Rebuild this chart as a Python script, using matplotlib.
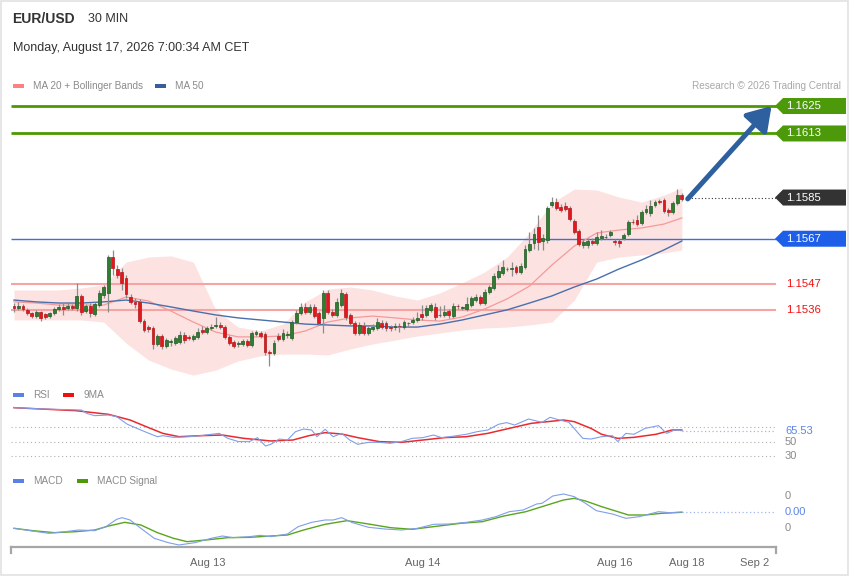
import numpy as np
import matplotlib
matplotlib.use("Agg")
import matplotlib.pyplot as plt
from matplotlib.path import Path
from matplotlib.patches import Rectangle

plt.rcParams["font.family"] = ["Liberation Sans", "DejaVu Sans"]

W, H = 850, 576

# ── 30 min candles ────────────────────────────────────────────────────────────
opens = [
    1.15376, 1.15367, 1.15376, 1.15359, 1.15345, 1.15332, 1.15350, 1.15341, 1.15332, 1.15345,
    1.15363, 1.15372, 1.15367, 1.15376, 1.15367, 1.15420, 1.15354, 1.15376, 1.15341, 1.15380,
    1.15424, 1.15433, 1.15590, 1.15538, 1.15525, 1.15498, 1.15415, 1.15394, 1.15394, 1.15310,
    1.15284, 1.15280, 1.15210, 1.15245, 1.15201, 1.15219, 1.15214, 1.15219, 1.15249, 1.15241,
    1.15232, 1.15241, 1.15271, 1.15262, 1.15280, 1.15289, 1.15293, 1.15284, 1.15241, 1.15219,
    1.15210, 1.15210, 1.15223, 1.15206, 1.15254, 1.15258, 1.15254, 1.15175, 1.15171, 1.15245,
    1.15232, 1.15249, 1.15236, 1.15306, 1.15345, 1.15372, 1.15350, 1.15372, 1.15345, 1.15324,
    1.15433, 1.15350, 1.15337, 1.15380, 1.15428, 1.15337, 1.15302, 1.15258, 1.15289, 1.15258,
    1.15275, 1.15280, 1.15302, 1.15302, 1.15284, 1.15284, 1.15289, 1.15284, 1.15302, 1.15306,
    1.15315, 1.15341, 1.15337, 1.15359, 1.15372, 1.15337, 1.15337, 1.15354, 1.15332, 1.15376,
    1.15367, 1.15363, 1.15380, 1.15402, 1.15415, 1.15389, 1.15437, 1.15455, 1.15503, 1.15520,
    1.15538, 1.15538, 1.15546, 1.15525, 1.15546, 1.15621, 1.15651, 1.15721, 1.15660, 1.15664,
    1.15817, 1.15830, 1.15809, 1.15813, 1.15804, 1.15747, 1.15704, 1.15643, 1.15643, 1.15660,
    1.15651, 1.15673, 1.15678, 1.15686, 1.15660, 1.15660, 1.15673, 1.15691, 1.15743, 1.15752,
    1.15737, 1.15787, 1.15782, 1.15817, 1.15835, 1.15839, 1.15795, 1.15787, 1.15826, 1.15861,
]
closes = [
    1.15367, 1.15376, 1.15363, 1.15345, 1.15332, 1.15350, 1.15324, 1.15328, 1.15345, 1.15363,
    1.15372, 1.15363, 1.15376, 1.15367, 1.15420, 1.15350, 1.15376, 1.15345, 1.15385, 1.15433,
    1.15459, 1.15590, 1.15542, 1.15511, 1.15477, 1.15428, 1.15394, 1.15385, 1.15310, 1.15271,
    1.15275, 1.15210, 1.15245, 1.15201, 1.15227, 1.15223, 1.15236, 1.15249, 1.15227, 1.15236,
    1.15245, 1.15262, 1.15262, 1.15280, 1.15284, 1.15293, 1.15284, 1.15241, 1.15214, 1.15201,
    1.15214, 1.15223, 1.15206, 1.15258, 1.15262, 1.15245, 1.15175, 1.15171, 1.15214, 1.15232,
    1.15258, 1.15254, 1.15306, 1.15345, 1.15372, 1.15350, 1.15372, 1.15332, 1.15302, 1.15433,
    1.15350, 1.15337, 1.15394, 1.15433, 1.15328, 1.15302, 1.15258, 1.15293, 1.15258, 1.15280,
    1.15284, 1.15306, 1.15284, 1.15280, 1.15282, 1.15289, 1.15287, 1.15306, 1.15300, 1.15315,
    1.15324, 1.15328, 1.15367, 1.15380, 1.15328, 1.15335, 1.15350, 1.15337, 1.15376, 1.15374,
    1.15369, 1.15385, 1.15411, 1.15415, 1.15389, 1.15437, 1.15459, 1.15507, 1.15529, 1.15546,
    1.15536, 1.15540, 1.15525, 1.15551, 1.15625, 1.15647, 1.15691, 1.15657, 1.15673, 1.15804,
    1.15830, 1.15804, 1.15795, 1.15800, 1.15756, 1.15699, 1.15647, 1.15657, 1.15660, 1.15651,
    1.15678, 1.15682, 1.15676, 1.15699, 1.15657, 1.15651, 1.15686, 1.15743, 1.15741, 1.15734,
    1.15787, 1.15800, 1.15813, 1.15830, 1.15830, 1.15791, 1.15787, 1.15826, 1.15861, 1.15844,
]
highs = [
    1.15390, 1.15395, 1.15385, 1.15367, 1.15350, 1.15359, 1.15354, 1.15345, 1.15350, 1.15372,
    1.15385, 1.15389, 1.15394, 1.15385, 1.15477, 1.15428, 1.15385, 1.15389, 1.15394, 1.15446,
    1.15468, 1.15599, 1.15621, 1.15555, 1.15542, 1.15511, 1.15428, 1.15411, 1.15407, 1.15319,
    1.15293, 1.15289, 1.15254, 1.15254, 1.15236, 1.15232, 1.15245, 1.15267, 1.15262, 1.15249,
    1.15254, 1.15280, 1.15289, 1.15289, 1.15297, 1.15328, 1.15306, 1.15293, 1.15249, 1.15227,
    1.15223, 1.15232, 1.15232, 1.15267, 1.15271, 1.15267, 1.15262, 1.15184, 1.15227, 1.15258,
    1.15275, 1.15267, 1.15315, 1.15359, 1.15389, 1.15389, 1.15385, 1.15385, 1.15354, 1.15446,
    1.15446, 1.15363, 1.15411, 1.15450, 1.15437, 1.15345, 1.15310, 1.15306, 1.15306, 1.15289,
    1.15297, 1.15324, 1.15315, 1.15310, 1.15293, 1.15302, 1.15302, 1.15315, 1.15306, 1.15328,
    1.15350, 1.15380, 1.15380, 1.15389, 1.15389, 1.15376, 1.15380, 1.15363, 1.15389, 1.15385,
    1.15376, 1.15415, 1.15420, 1.15428, 1.15424, 1.15450, 1.15468, 1.15520, 1.15555, 1.15577,
    1.15546, 1.15568, 1.15555, 1.15564, 1.15643, 1.15699, 1.15717, 1.15774, 1.15691, 1.15813,
    1.15852, 1.15848, 1.15822, 1.15830, 1.15813, 1.15756, 1.15713, 1.15669, 1.15673, 1.15673,
    1.15699, 1.15708, 1.15691, 1.15708, 1.15669, 1.15669, 1.15695, 1.15752, 1.15756, 1.15774,
    1.15795, 1.15817, 1.15839, 1.15839, 1.15843, 1.15848, 1.15804, 1.15835, 1.15887, 1.15870,
]
lows = [
    1.15350, 1.15359, 1.15354, 1.15337, 1.15324, 1.15324, 1.15310, 1.15319, 1.15324, 1.15337,
    1.15354, 1.15337, 1.15359, 1.15359, 1.15354, 1.15337, 1.15345, 1.15328, 1.15332, 1.15372,
    1.15411, 1.15350, 1.15511, 1.15498, 1.15446, 1.15411, 1.15385, 1.15367, 1.15302, 1.15262,
    1.15262, 1.15188, 1.15201, 1.15188, 1.15192, 1.15201, 1.15206, 1.15210, 1.15214, 1.15227,
    1.15223, 1.15232, 1.15254, 1.15254, 1.15271, 1.15280, 1.15275, 1.15232, 1.15206, 1.15192,
    1.15197, 1.15201, 1.15197, 1.15197, 1.15245, 1.15236, 1.15162, 1.15114, 1.15162, 1.15223,
    1.15223, 1.15236, 1.15227, 1.15297, 1.15337, 1.15341, 1.15341, 1.15324, 1.15293, 1.15258,
    1.15341, 1.15328, 1.15328, 1.15372, 1.15315, 1.15293, 1.15249, 1.15249, 1.15249, 1.15249,
    1.15267, 1.15271, 1.15275, 1.15267, 1.15267, 1.15271, 1.15262, 1.15275, 1.15289, 1.15297,
    1.15306, 1.15315, 1.15328, 1.15350, 1.15315, 1.15328, 1.15328, 1.15324, 1.15324, 1.15363,
    1.15359, 1.15354, 1.15372, 1.15394, 1.15380, 1.15380, 1.15428, 1.15446, 1.15494, 1.15511,
    1.15529, 1.15507, 1.15516, 1.15516, 1.15538, 1.15612, 1.15625, 1.15621, 1.15621, 1.15651,
    1.15809, 1.15795, 1.15787, 1.15791, 1.15747, 1.15691, 1.15638, 1.15629, 1.15629, 1.15643,
    1.15643, 1.15664, 1.15669, 1.15678, 1.15643, 1.15634, 1.15664, 1.15682, 1.15734, 1.15725,
    1.15730, 1.15778, 1.15769, 1.15809, 1.15822, 1.15782, 1.15769, 1.15778, 1.15817, 1.15835,
]

# ── MA 20 + Bollinger, MA 50 (read every 5 candles) ───────────────────────────
band_idx = [0, 5, 10, 15, 20, 25, 30, 35, 40, 45, 50, 55, 60, 65, 70, 75,
            80, 85, 90, 95, 100, 105, 110, 115, 120, 125, 130, 135, 140, 145, 149]
bb_upper = [1.15446, 1.15446, 1.15446, 1.15455, 1.15468, 1.15568, 1.15590, 1.15595,
            1.15568, 1.15359, 1.15284, 1.15267, 1.15297, 1.15394, 1.15450, 1.15459,
            1.15446, 1.15420, 1.15402, 1.15433, 1.15477, 1.15525, 1.15590, 1.15695,
            1.15826, 1.15887, 1.15883, 1.15852, 1.15830, 1.15861, 1.15892]
bb_lower = [1.15315, 1.15315, 1.15315, 1.15315, 1.15306, 1.15214, 1.15140, 1.15101,
            1.15074, 1.15096, 1.15136, 1.15158, 1.15166, 1.15166, 1.15162, 1.15188,
            1.15210, 1.15227, 1.15245, 1.15258, 1.15271, 1.15280, 1.15284, 1.15293,
            1.15306, 1.15402, 1.15568, 1.15590, 1.15599, 1.15608, 1.15621]
ma20 = [1.15394, 1.15389, 1.15380, 1.15380, 1.15380, 1.15415, 1.15398, 1.15354,
        1.15306, 1.15262, 1.15241, 1.15241, 1.15245, 1.15267, 1.15306, 1.15324,
        1.15332, 1.15324, 1.15315, 1.15310, 1.15328, 1.15363, 1.15407, 1.15463,
        1.15555, 1.15638, 1.15695, 1.15708, 1.15717, 1.15734, 1.15761]
ma50 = [1.15402, 1.15394, 1.15389, 1.15389, 1.15394, 1.15402, 1.15389, 1.15372,
        1.15354, 1.15337, 1.15324, 1.15315, 1.15306, 1.15297, 1.15293, 1.15289,
        1.15289, 1.15284, 1.15284, 1.15297, 1.15315, 1.15337, 1.15359, 1.15389,
        1.15420, 1.15459, 1.15494, 1.15538, 1.15577, 1.15621, 1.15660]

# ── key levels ────────────────────────────────────────────────────────────────
level_prices = [1.1625, 1.1613, 1.1585, 1.1567, 1.1547, 1.1536]
level_kinds = ["target", "target", "last", "pivot", "support", "support"]

# ── RSI / 9MA ─────────────────────────────────────────────────────────────────
rsi_idx = [0, 6.6, 15.0, 16.2, 18.0, 21.1, 22.9, 25.3, 28.3, 30.1, 32.0, 33.2, 35.6,
           39.2, 41.6, 44.0, 45.8, 47.7, 50.1, 52.5, 54.3, 56.1, 57.3, 59.2, 61.0,
           62.8, 64.6, 66.4, 67.6, 69.4, 71.2, 73.1, 74.9, 76.7, 79.1, 81.5, 83.9,
           86.4, 88.8, 91.2, 93.6, 95.4, 97.2, 100.9, 103.3, 105.7, 108.1, 109.9,
           111.7, 114.8, 116.6, 117.8, 119.6, 121.4, 123.8, 125.6, 126.9, 128.7,
           131.1, 133.5, 134.7, 136.5, 138.3, 140.8, 143.8, 145.6, 147.4, 149]
rsi_val = [97.3, 95.5, 94.1, 89.5, 86.3, 87.2, 84.9, 74.4, 66.5, 61.9, 57.3, 58.7, 56.4,
           57.3, 58.7, 60.6, 61.9, 55.0, 50.5, 50.5, 56.0, 44.5, 46.8, 54.1, 52.7,
           64.2, 67.9, 66.5, 57.3, 67.5, 57.3, 61.9, 52.7, 46.8, 49.5, 49.5, 48.2,
           50.5, 55.0, 56.0, 59.6, 56.0, 57.3, 60.6, 64.2, 66.5, 74.4, 76.7,
           73.4, 81.7, 78.9, 77.1, 84.0, 80.8, 77.1, 64.2, 55.0, 54.1,
           57.3, 58.7, 50.5, 61.9, 60.6, 68.8, 72.5, 61.9, 66.5, 65.53]
rsi_ma_idx = [0, 13.8, 21.1, 25.9, 29.5, 33.2, 36.8, 41.6, 46.5, 51.3, 57.3, 62.2,
              65.8, 69.4, 73.1, 76.7, 81.5, 86.4, 91.2, 96.0, 100.9, 105.7, 110.5,
              115.4, 122.6, 125.0, 128.7, 131.1, 134.7, 138.3, 143.2, 146.8, 149]
rsi_ma_val = [97.3, 93.2, 88.1, 80.3, 71.1, 61.9, 57.3, 58.7, 59.6, 55.0, 51.4, 52.7,
              58.7, 62.9, 61.0, 56.0, 50.5, 49.5, 52.7, 56.0, 57.3, 61.9, 68.8,
              75.7, 80.3, 78.0, 68.8, 60.6, 55.0, 56.4, 60.6, 66.5, 66.5]
rsi_levels = [70, 50, 30]
rsi_labels = ["", "50", "30"]   # the 70 label sits under the current value tag
rsi_last = 65.53

# ── MACD / signal ─────────────────────────────────────────────────────────────
macd_idx = [0, 4.1, 7.8, 11.4, 14.4, 18.0, 20.5, 22.9, 24.1, 25.9, 28.3, 31.3, 34.4,
            36.8, 40.4, 44.0, 46.5, 48.9, 52.5, 54.9, 57.3, 61.0, 63.4, 66.4, 69.4,
            71.2, 73.1, 75.5, 79.1, 82.7, 86.4, 90.0, 93.6, 97.2, 100.9, 104.5,
            107.5, 110.5, 113.6, 116.6, 117.8, 120.2, 122.6, 125.0, 127.5, 129.9,
            133.5, 136.5, 139.5, 143.8, 146.2, 149]
macd_val = [-0.000510, -0.000594, -0.000667, -0.000615, -0.000563, -0.000583, -0.000458,
            -0.000229, -0.000177, -0.000250, -0.000510, -0.000823, -0.000958,
            -0.001031, -0.000958, -0.000823, -0.000750, -0.000802, -0.000771,
            -0.000729, -0.000771, -0.000688, -0.000458, -0.000323, -0.000250,
            -0.000250, -0.000177, -0.000333, -0.000479, -0.000531, -0.000563,
            -0.000510, -0.000385, -0.000375, -0.000323, -0.000250, -0.000146,
            0.000010, 0.000063, 0.000250, 0.000271, 0.000500, 0.000563, 0.000479,
            0.000271, 0.000042, -0.000063, -0.000198, -0.000146, 0.000010,
            -0.000021, 0.000000]
signal_idx = [0, 4.1, 9.0, 13.8, 18.0, 21.1, 24.7, 28.3, 32.0, 35.6, 38.6, 42.8, 47.7,
              52.5, 57.3, 61.0, 64.6, 69.4, 74.3, 79.1, 84.0, 88.8, 93.6, 99.6,
              104.5, 109.3, 114.2, 119.0, 122.6, 125.0, 127.5, 131.1, 134.7, 137.1,
              140.8, 144.4, 149]
signal_val = [-0.000510, -0.000583, -0.000646, -0.000615, -0.000563, -0.000438,
              -0.000323, -0.000406, -0.000646, -0.000823, -0.000927, -0.000875,
              -0.000802, -0.000792, -0.000750, -0.000719, -0.000563, -0.000385,
              -0.000271, -0.000375, -0.000490, -0.000542, -0.000458, -0.000354,
              -0.000302, -0.000125, 0.000010, 0.000219, 0.000375, 0.000427,
              0.000344, 0.000167, 0.000010, -0.000094, -0.000094, -0.000042,
              -0.000010]
macd_ticks = [0.0005, -0.0005]
macd_last = 0.0

date_ticks = [43.2, 91.2, 134.1, 150.1, 165.3]
date_labels = ["Aug 13", "Aug 14", "Aug 16", "Aug 18", "Sep 2"]

# ── layout helpers (pixel based, dpi 100) ─────────────────────────────────────
X0, X1 = 11, 776
XLIM = (-0.67, 170)


def panel(top, bottom):
    return [X0 / W, 1 - bottom / H, (X1 - X0) / W, (bottom - top) / H]


def tag_shape(x0, y0, width, height, mutation_size):
    # left pointing price tag with a fixed size
    cy = y0 + height / 2
    tip, left, right = x0 - 11, x0 - 3, x0 + 60
    top, bot = cy + 8, cy - 8
    return Path([(tip, cy), (left, top), (right, top), (right, bot), (left, bot), (tip, cy)],
                closed=True)


def side_label(ax, y, text, color, boxcolor=None, size=8, dx=10):
    bbox = None
    if boxcolor == "white":
        bbox = dict(boxstyle="square,pad=0.15", fc="white", ec="none")
    elif boxcolor:
        bbox = dict(boxstyle=tag_shape, fc=boxcolor, ec="none")
    ax.annotate(text, xy=(1, y), xycoords=("axes fraction", "data"),
                xytext=(dx, 0), textcoords="offset pixels", ha="left", va="center",
                fontsize=size, color=color, bbox=bbox, annotation_clip=False, zorder=10)


def legend_item(x, y, color, label):
    fig.patches.append(Rectangle((x / W, 1 - (y + 2) / H), 11 / W, 4 / H,
                                 transform=fig.transFigure, color=color, lw=0))
    fig.text((x + 20) / W, 1 - y / H, label, va="center", fontsize=7.2, color="#8a8a8a")


fig = plt.figure(figsize=(W / 100, H / 100), dpi=100)
fig.patches.append(Rectangle((0.001, 0.001), 0.997, 0.997, transform=fig.transFigure,
                             fill=False, edgecolor="#e2e2e2", lw=1.2))

# ── header ────────────────────────────────────────────────────────────────────
fig.text(12 / W, 1 - 19 / H, "EUR/USD", fontsize=10, fontweight="bold", color="#333333", va="center")
fig.text(88 / W, 1 - 19 / H, "30 MIN", fontsize=9, color="#333333", va="center")
fig.text(13 / W, 1 - 48 / H, "Monday, August 17, 2026 7:00:34 AM CET", fontsize=9,
         color="#333333", va="center")
legend_item(13, 86, "#ff8080", "MA 20 + Bollinger Bands")
legend_item(155, 86, "#3a5d9c", "MA 50")
fig.text(841 / W, 1 - 86 / H, "Research \u00a9 2026 Trading Central", fontsize=7.2,
         color="#a8a8a8", va="center", ha="right")
legend_item(13, 395, "#5b80e6", "RSI")
legend_item(63, 395, "#ee1111", "9MA")
legend_item(13, 481, "#5b80e6", "MACD")
legend_item(77, 481, "#4c9a0a", "MACD Signal")

# ── price panel ───────────────────────────────────────────────────────────────
ax = fig.add_axes(panel(95, 382))
ax.set_xlim(*XLIM)
ax.set_ylim(1.150439, 1.162981)
ax.axis("off")

ax.fill_between(band_idx, bb_lower, bb_upper, color="#fde2e2", lw=0, zorder=1)
ax.plot(band_idx, ma20, color="#f59a9a", lw=0.9, zorder=3)
ax.plot(band_idx, ma50, color="#4a6fab", lw=1.0, zorder=3)

o = np.array(opens)
c = np.array(closes)
x = np.arange(len(o))
up = c >= o
body_lo = np.minimum(o, c)
body_h = np.maximum(np.abs(c - o), 0.00003)
ax.vlines(x, lows, highs, color="#8c8c8c", lw=0.9, zorder=4)
ax.bar(x[up], body_h[up], bottom=body_lo[up], width=0.64, color="#2e7d32",
       edgecolor="#1d5a20", lw=0.5, zorder=5)
ax.bar(x[~up], body_h[~up], bottom=body_lo[~up], width=0.64, color="#e5161c",
       edgecolor="#b3161a", lw=0.5, zorder=5)

styles = {
    "target": dict(color="#4c9a00", lw=2.0, box="#4c9a0a", text="white"),
    "last": dict(color="#333333", lw=0.8, box="#333333", text="white"),
    "pivot": dict(color="#3f6fd8", lw=1.0, box="#1d5fe8", text="white"),
    "support": dict(color="#f5a3a3", lw=1.5, box=None, text="#f01010"),
}
for price, kind in zip(level_prices, level_kinds):
    st = styles[kind]
    if kind == "last":
        ax.hlines(price, len(c) + 0.3, XLIM[1], color=st["color"], lw=st["lw"],
                  linestyles=(0, (1, 2)), zorder=2)
    else:
        ax.hlines(price, XLIM[0], XLIM[1] + (0.4 if st["box"] else 0), color=st["color"],
                  lw=st["lw"], zorder=2, clip_on=False)
    side_label(ax, price, f"{price:.4f}", st["text"], st["box"], size=8.2)

ax.annotate("", xy=(len(c) + 19, level_prices[0]), xytext=(len(c) + 0.3, closes[-1]),
            arrowprops=dict(arrowstyle="-|>,head_length=0.7,head_width=0.45", lw=3.6,
                            color="#2e5f9f", mutation_scale=20, shrinkA=0, shrinkB=0),
            annotation_clip=False, zorder=9)

# ── RSI panel ─────────────────────────────────────────────────────────────────
ax_r = fig.add_axes(panel(400, 462))
ax_r.set_xlim(*XLIM)
ax_r.set_ylim(22.4, 107.9)
ax_r.axis("off")
for lv, lab in zip(rsi_levels, rsi_labels):
    ax_r.axhline(lv, color="#b0b0b0", lw=0.8, ls=(0, (1, 2.5)), zorder=1)
    if lab:
        side_label(ax_r, lv, lab, "#8a8a8a", size=8, dx=9)
ax_r.plot(rsi_idx, rsi_val, color="#7f9fea", lw=0.8, zorder=3)
ax_r.plot(rsi_ma_idx, rsi_ma_val, color="#ea2a2e", lw=1.1, zorder=2)
ax_r.hlines(rsi_last, rsi_idx[-1], XLIM[1], color="#9fb6f0", lw=0.9, linestyles=(0, (1, 2)))
side_label(ax_r, rsi_last, f"{rsi_last:.2f}", "#5b84e6", "white", size=8, dx=9)

# ── MACD panel ────────────────────────────────────────────────────────────────
ax_m = fig.add_axes(panel(488, 547))
ax_m.set_xlim(*XLIM)
ax_m.set_ylim(-0.001094, 0.00075)
for s in ("top", "left", "right"):
    ax_m.spines[s].set_visible(False)
ax_m.spines["bottom"].set_color("#a6a6a6")
ax_m.spines["bottom"].set_linewidth(1.6)
ax_m.set_yticks([])
ax_m.set_xticks(date_ticks)
ax_m.set_xticklabels(date_labels)
ax_m.tick_params(axis="x", length=0, pad=8, labelsize=8, labelcolor="#666666")
for xe in (0, 1):
    ax_m.plot([xe, xe], [0, -0.11], transform=ax_m.transAxes, color="#a6a6a6", lw=1.6,
              clip_on=False)
ax_m.plot(macd_idx, macd_val, color="#7f9fea", lw=0.8, zorder=3)
ax_m.plot(signal_idx, signal_val, color="#5aa51e", lw=1.0, zorder=2)
ax_m.hlines(macd_last, macd_idx[-1], XLIM[1], color="#9fb6f0", lw=0.9, linestyles=(0, (1, 2)))
for t in macd_ticks:
    side_label(ax_m, t, "0", "#8a8a8a", size=8, dx=9)
side_label(ax_m, macd_last, f"{macd_last:.2f}", "#5b84e6", "white", size=8, dx=9)

fig.savefig("out.png", dpi=100, facecolor="white")
